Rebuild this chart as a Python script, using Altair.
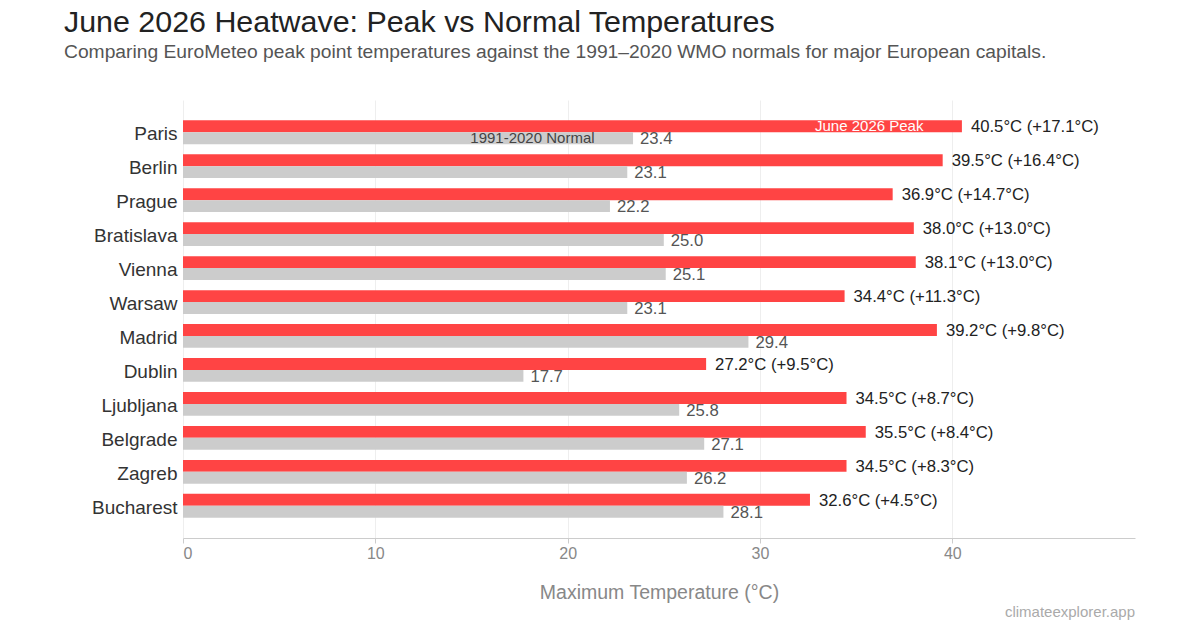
import altair as alt
import pandas as pd

cities = ["Paris", "Berlin", "Prague", "Bratislava", "Vienna", "Warsaw", "Madrid",
          "Dublin", "Ljubljana", "Belgrade", "Zagreb", "Bucharest"]
peak = [40.5, 39.5, 36.9, 38.0, 38.1, 34.4, 39.2, 27.2, 34.5, 35.5, 34.5, 32.6]
normal = [23.4, 23.1, 22.2, 25.0, 25.1, 23.1, 29.4, 17.7, 25.8, 27.1, 26.2, 28.1]
x_ticks = [0, 10, 20, 30, 40]

rows = []
for c, p, n in zip(cities, peak, normal):
    d = round(p - n, 1)
    rows.append({"city": c, "series": "June 2026 Peak", "order": 0, "value": p,
                 "label": f"{p:.1f}°C (+{d:.1f}°C)"})
    rows.append({"city": c, "series": "1991-2020 Normal", "order": 1, "value": n,
                 "label": f"{n:.1f}"})
df = pd.DataFrame(rows)

FONT = "Liberation Sans"

x_enc = alt.X("value:Q", scale=alt.Scale(domain=[0, 49.5], nice=False),
              axis=alt.Axis(values=x_ticks, title="Maximum Temperature (°C)", grid=True,
                            gridColor="#eeeeee", domainColor="#cccccc", tickColor="#cccccc",
                            tickSize=5, labelColor="#888888", labelFontSize=16,
                            labelPadding=2, titleColor="#888888", titleFontSize=19.5,
                            titleFontWeight="normal", titlePadding=22, labelFont=FONT,
                            titleFont=FONT))
y_enc = alt.Y("city:N", sort=cities,
              scale=alt.Scale(paddingInner=0.3, paddingOuter=0.6),
              axis=alt.Axis(title=None, domain=False, ticks=False, labelFontSize=19,
                            labelColor="#333333", labelPadding=6, labelFont=FONT,
                            labelOffset=2))
yoff = alt.YOffset("order:O", scale=alt.Scale(paddingInner=0, paddingOuter=0))

base = alt.Chart(df)

bars = base.mark_bar().encode(
    x=x_enc, y=y_enc, yOffset=yoff,
    color=alt.Color("series:N", scale=alt.Scale(domain=["June 2026 Peak", "1991-2020 Normal"],
                                                range=["#ff4444", "#cccccc"]), legend=None),
)

peak_lbl = base.transform_filter(alt.datum.order == 0).mark_text(
    align="left", baseline="middle", dx=9, dy=1, fontSize=16.7, color="#222222", font=FONT
).encode(x="value:Q", y=alt.Y("city:N", sort=cities), yOffset=yoff, text="label:N")

norm_lbl = base.transform_filter(alt.datum.order == 1).mark_text(
    align="left", baseline="middle", dx=7, dy=1, fontSize=16.7, color="#555555", font=FONT
).encode(x="value:Q", y=alt.Y("city:N", sort=cities), yOffset=yoff, text="label:N")

inbar = base.transform_filter(alt.datum.city == "Paris").transform_calculate(
    pos="datum.value - 2"
).mark_text(align="right", baseline="middle", fontSize=15, font=FONT).encode(
    x="pos:Q", y=alt.Y("city:N", sort=cities), yOffset=yoff, text="series:N",
    color=alt.Color("series:N", scale=alt.Scale(domain=["June 2026 Peak", "1991-2020 Normal"],
                                                range=["#ffffff", "#444444"]), legend=None),
)

credit = alt.Chart(pd.DataFrame({"t": ["climateexplorer.app"]})).mark_text(
    align="right", baseline="middle", fontSize=15, color="#aaaaaa", font=FONT
).encode(x=alt.value(952), y=alt.value(512), text="t:N")

chart = alt.layer(bars, peak_lbl, norm_lbl, inbar, credit).resolve_scale(color="independent").properties(
    width=952, height=438,
    padding={"left": 175, "top": 92, "right": 57, "bottom": 82},
    autosize=alt.AutoSizeParams(type="none"),
    title=alt.TitleParams(
        "June 2026 Heatwave: Peak vs Normal Temperatures",
        subtitle="Comparing EuroMeteo peak point temperatures against the 1991–2020 WMO normals for major European capitals.",
        anchor="start", frame="group", dx=-119, fontSize=30.4, subtitleFontSize=19.25,
        color="#222222", subtitleColor="#555555", font=FONT, subtitleFont=FONT,
        fontWeight="normal", offset=38, subtitlePadding=4,
    ),
).configure_view(stroke=None)

chart.save("out.html", embed_options={"renderer": "svg", "actions": False})
